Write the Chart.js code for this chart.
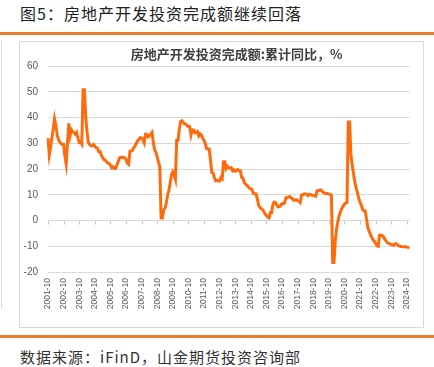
<!DOCTYPE html>
<html>
<head>
<meta charset="utf-8">
<script src="https://cdn.jsdelivr.net/npm/chart.js@4/dist/chart.umd.min.js"></script>
<style>
  body { margin: 0; width: 434px; height: 367px; background: #fff; position: relative; overflow: hidden;
         font-family: "Noto Sans CJK SC", "Liberation Sans", sans-serif; }
  #title { position: absolute; left: 20px; top: 2px; font-size: 16px; letter-spacing: 1px; line-height: 22px; color: #222; }
  .rule { position: absolute; left: 0; width: 434px; height: 3px; background: #e97a2e; }
  #edge { position: absolute; left: 1px; top: 40px; width: 1px; height: 268px; background: #d9d9d9; }
  #box { position: absolute; left: 19px; top: 41px; width: 405px; height: 287px; box-sizing: border-box;
         border: 1px solid #d9d9d9; }
  #box canvas { display: block; }
  #source { position: absolute; left: 20px; top: 347px; font-size: 15px; letter-spacing: 1px; line-height: 20px; color: #333; }
</style>
</head>
<body>
<div id="title">图5：房地产开发投资完成额继续回落</div>
<div class="rule" style="top:32px"></div>
<div id="edge"></div>
<div id="box"><canvas id="myChart" width="403" height="285"></canvas></div>
<div class="rule" style="top:335px"></div>
<div id="source">数据来源：iFinD，山金期货投资咨询部</div>

<script>
const chartTitle = "房地产开发投资完成额:累计同比，%";

// monthly, 2001-10 .. 2024-12 (Jan shown with the Jan-Feb figure)
const startYear = 2001, startMonth = 10, endYear = 2024, endMonth = 12;

const growth = [
  32.0, 25.5, 28.5,                                                 // 2001 Oct-Dec
  32.0, 35.5, 39.5, 37.0, 33.5, 31.5, 30.5, 30.0, 29.5, 29.5, 25.0, 22.0, // 2002
  30.0, 37.7, 33.0, 35.2, 34.5, 34.2, 33.5, 34.2, 32.0, 30.3, 30.5, 29.7, // 2003
  50.8, 50.8, 40.5, 34.5, 30.5, 29.5, 29.0, 29.0, 29.5, 28.8, 28.3, 28.1, // 2004
  26.8, 26.8, 25.5, 24.5, 23.6, 23.5, 22.8, 22.3, 22.2, 21.5, 20.5, 20.9, // 2005
  20.2, 20.2, 21.5, 22.8, 24.4, 24.5, 24.6, 24.6, 24.3, 23.8, 22.2, 21.8, // 2006
  26.9, 26.9, 27.3, 28.3, 29.0, 30.0, 31.0, 31.5, 32.2, 32.0, 31.5, 30.2, // 2007
  33.5, 33.5, 32.5, 33.0, 33.5, 34.2, 30.5, 27.5, 26.5, 24.6, 22.7, 20.9, // 2008
  1.0, 1.0, 4.1, 4.9, 6.8, 9.9, 11.6, 14.7, 17.7, 18.9, 17.8, 16.1,       // 2009
  31.1, 31.1, 35.5, 38.5, 38.8, 38.1, 37.5, 37.5, 36.8, 36.5, 36.5, 33.2, // 2010
  35.2, 35.2, 34.1, 34.3, 34.6, 32.9, 33.6, 33.2, 32.0, 31.1, 29.9, 27.9, // 2011
  27.8, 27.8, 23.5, 18.7, 18.5, 16.6, 15.4, 15.6, 15.4, 15.4, 16.7, 16.2, // 2012
  22.8, 22.8, 20.2, 21.1, 20.6, 20.3, 20.5, 19.3, 19.7, 19.2, 19.5, 19.8, // 2013
  19.3, 19.3, 16.8, 16.4, 14.7, 14.1, 13.7, 13.2, 12.5, 12.4, 11.9, 10.5, // 2014
  10.4, 10.4, 8.5, 6.0, 5.1, 4.6, 4.3, 3.5, 2.6, 2.0, 1.3, 1.0,           // 2015
  3.0, 3.0, 6.2, 7.2, 7.0, 6.1, 5.3, 5.4, 5.8, 6.6, 6.5, 6.9,             // 2016
  8.9, 8.9, 9.1, 9.3, 8.8, 8.5, 7.9, 7.9, 8.1, 7.8, 7.5, 7.0,             // 2017
  9.9, 9.9, 10.4, 10.3, 10.2, 9.7, 10.2, 10.1, 9.9, 9.7, 9.7, 9.5,       // 2018
  11.6, 11.6, 11.8, 11.9, 11.2, 10.9, 10.6, 10.5, 10.5, 10.3, 10.2, 9.9, // 2019
  -16.3, -16.3, -7.7, -3.3, -0.3, 1.9, 3.4, 4.6, 5.6, 6.3, 6.8, 7.0,    // 2020
  38.3, 38.3, 25.6, 21.6, 18.3, 15.0, 12.7, 10.9, 8.8, 7.2, 6.0, 4.4,   // 2021
  3.7, 3.7, 0.7, -2.7, -4.0, -5.4, -6.4, -7.4, -8.0, -8.8, -9.8, -10.0, // 2022
  -5.7, -5.7, -5.8, -6.2, -7.2, -7.9, -8.5, -8.8, -9.1, -9.3, -9.4, -9.6, // 2023
  -9.0, -9.0, -9.5, -9.8, -10.1, -10.1, -10.2, -10.2, -10.1, -10.3, -10.4, -10.6, // 2024
];

const yTicks = [-20, -10, 0, 10, 20, 30, 40, 50, 60];

const labels = [];
for (let y = startYear, m = startMonth; y < endYear || (y === endYear && m <= endMonth); ) {
  labels.push(y + "-" + String(m).padStart(2, "0"));
  m++;
  if (m > 12) { m = 1; y++; }
}

const cjk = '"Noto Sans CJK SC", sans-serif';
const latin = '"Liberation Sans", "Noto Sans CJK SC", sans-serif';

const extras = {
  id: "extras",
  beforeDatasetsDraw(chart) {
    const { ctx, scales } = chart;
    const y0 = scales.y.getPixelForValue(0);
    ctx.save();
    ctx.strokeStyle = "#c8c8c8";
    ctx.lineWidth = 1;
    scales.x.ticks.forEach((t, i) => {
      const x = Math.round(scales.x.getPixelForTick(i)) + 0.5;
      ctx.beginPath();
      ctx.moveTo(x, y0);
      ctx.lineTo(x, y0 + 4);
      ctx.stroke();
    });
    ctx.restore();
  },
  afterDraw(chart) {
    const { ctx, chartArea } = chart;
    ctx.save();
    ctx.font = "bold 13px " + cjk;
    ctx.fillStyle = "#404040";
    ctx.textAlign = "center";
    ctx.textBaseline = "middle";
    ctx.fillText(chartTitle, (chartArea.left + chartArea.right) / 2 + 8, 12);
    ctx.restore();
  },
};

const ctx = document.getElementById("myChart").getContext("2d");

new Chart(ctx, {
  type: "line",
  data: {
    labels: labels,
    datasets: [
      {
        label: chartTitle,
        data: growth,
        borderColor: "#ff6a0d",
        borderWidth: 3,
        pointRadius: 0,
        tension: 0,
        fill: false,
      },
    ],
  },
  options: {
    responsive: false,
    animation: false,
    layout: { padding: { left: 4, right: 1, top: 24, bottom: 11.7 } },
    plugins: { legend: { display: false }, tooltip: { enabled: false }, title: { display: false } },
    scales: {
      x: {
        grid: { display: false, drawTicks: false },
        border: { display: false },
        ticks: {
          autoSkip: false,
          maxRotation: 90,
          minRotation: 90,
          padding: 6,
          color: "#595959",
          font: { family: latin, size: 8.5 },
          callback: (v, i) => (i % 12 === 0 ? labels[i] : null),
        },
      },
      y: {
        min: -20,
        max: 60,
        afterBuildTicks: (scale) => { scale.ticks = yTicks.map((v) => ({ value: v })); },
        afterFit: (scale) => { scale.width = 24; },
        grid: { color: "#d9d9d9", drawTicks: false },
        border: { display: false },
        ticks: { padding: 10, color: "#595959", font: { family: latin, size: 10 } },
      },
    },
  },
  plugins: [extras],
});
</script>
</body>
</html>
